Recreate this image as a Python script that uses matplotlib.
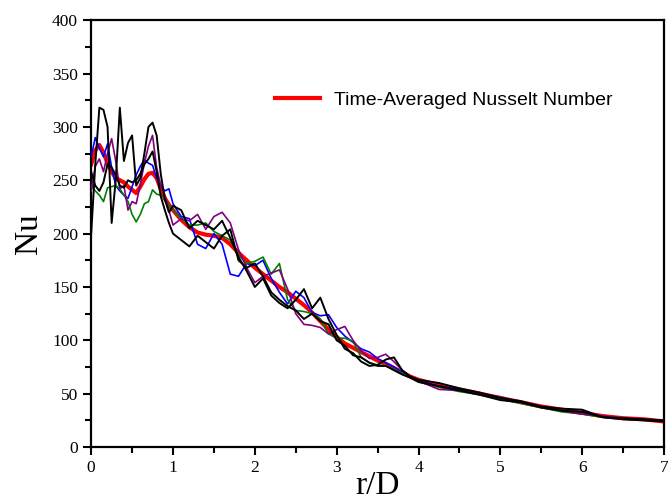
import numpy as np
import matplotlib
matplotlib.use("Agg")
import matplotlib.pyplot as plt
from matplotlib.ticker import MultipleLocator

# radial position r/D (shared grid for all series)
r_fine = [0.0, 0.05, 0.1, 0.15, 0.2, 0.25, 0.3, 0.35, 0.4, 0.45, 0.5,
          0.55, 0.6, 0.65, 0.7, 0.75, 0.8, 0.85, 0.9, 0.95, 1.0]
r_mid = [1.1, 1.2, 1.3, 1.4, 1.5, 1.6, 1.7, 1.8, 1.9, 2.0,
         2.1, 2.2, 2.3, 2.4, 2.5, 2.6, 2.7, 2.8, 2.9, 3.0,
         3.1, 3.2, 3.3, 3.4, 3.5, 3.6, 3.7, 3.8, 3.9, 4.0]
r_far = [4.25, 4.5, 4.75, 5.0, 5.25, 5.5, 5.75, 6.0, 6.25, 6.5, 6.75, 7.0]
r = np.array(r_fine + r_mid + r_far)

nu_avg = [265, 278, 283, 276, 266, 258, 252, 250, 248, 244, 241,
          238, 244, 251, 256, 257, 252, 242, 233, 227, 222,
          213, 206, 201, 199, 198, 196, 190, 182, 175, 168,
          162, 156, 150, 145, 139, 133, 126, 118, 110, 103,
          97, 93, 89, 85, 81, 78, 74, 70, 66, 63,
          58, 54, 50, 46, 42, 38, 35, 32, 29, 27, 26, 24]

nu_blue = [272, 290, 280, 272, 284, 262, 245, 240, 236, 233, 244,
           255, 263, 269, 266, 264, 252, 245, 240, 242, 228,
           216, 214, 190, 186, 200, 190, 162, 160, 172, 170,
           175, 158, 145, 134, 146, 140, 126, 123, 124, 112,
           104, 98, 92, 89, 83, 79, 75, 70, 66, 62,
           57, 54, 50, 46, 42, 38, 34, 31, 29, 27, 26, 25]

nu_green = [245, 240, 236, 230, 243, 244, 245, 242, 236, 230, 218,
            211, 218, 228, 230, 241, 237, 236, 234, 226, 222,
            214, 208, 208, 210, 202, 198, 194, 180, 172, 174,
            178, 162, 172, 138, 128, 127, 125, 120, 106, 102,
            102, 99, 84, 79, 77, 76, 73, 69, 65, 61,
            56, 52, 49, 45, 41, 37, 33, 31, 28, 27, 26, 25]

nu_purple = [240, 263, 270, 258, 275, 289, 268, 242, 245, 222, 230,
             228, 246, 266, 282, 292, 262, 245, 236, 222, 208,
             214, 212, 218, 204, 216, 220, 210, 185, 168, 154,
             160, 163, 166, 148, 125, 115, 114, 112, 106, 110,
             113, 100, 90, 83, 84, 87, 80, 72, 66, 62,
             54, 53, 50, 47, 42, 38, 34, 31, 29, 27, 26, 25]

nu_black1 = [200, 265, 318, 316, 300, 210, 250, 318, 268, 285, 292,
             245, 252, 275, 300, 304, 292, 256, 232, 220, 226,
             222, 205, 212, 208, 204, 212, 196, 178, 165, 150,
             158, 142, 135, 130, 138, 148, 130, 140, 120, 105,
             92, 88, 80, 76, 77, 82, 84, 72, 66, 63,
             60, 55, 51, 46, 43, 38, 36, 35, 28, 27, 26, 25]

nu_black2 = [258, 245, 240, 248, 265, 262, 255, 245, 243, 250, 248,
             250, 256, 265, 270, 277, 258, 235, 222, 210, 200,
             194, 188, 198, 192, 186, 198, 204, 175, 168, 172,
             160, 145, 138, 132, 128, 120, 125, 118, 115, 100,
             95, 86, 84, 79, 76, 76, 72, 68, 65, 61,
             57, 53, 49, 44, 42, 37, 34, 33, 28, 26, 25, 24]

plt.rcParams["font.family"] = ["Liberation Serif", "DejaVu Serif"]

fig = plt.figure(figsize=(6.68, 5.04), dpi=100)
ax = fig.add_axes([0.1365, 0.113, 0.8575, 0.847])

ax.plot(r, nu_avg, color="red", lw=3.0, zorder=2,
        label="Time-Averaged Nusselt Number")
ax.plot(r, nu_blue, color="blue", lw=1.2, zorder=3)
ax.plot(r, nu_green, color="green", lw=1.2, zorder=3)
ax.plot(r, nu_purple, color="purple", lw=1.2, zorder=3)
ax.plot(r, nu_black2, color="black", lw=1.4, zorder=4)
ax.plot(r, nu_black1, color="black", lw=1.4, zorder=4)

ax.set_xlim(0, 7)
ax.set_ylim(0, 400)
ax.xaxis.set_major_locator(MultipleLocator(1))
ax.xaxis.set_minor_locator(MultipleLocator(0.5))
ax.yaxis.set_major_locator(MultipleLocator(50))
ax.yaxis.set_minor_locator(MultipleLocator(25))
ax.tick_params(which="both", direction="out", width=1.5, labelsize=12.5,
               top=False, right=False)
ax.tick_params(which="major", length=6)
ax.tick_params(which="minor", length=4)
for sp in ax.spines.values():
    sp.set_linewidth(1.6)

ax.set_xlabel("r/D", fontsize=24, labelpad=-4)
ax.set_ylabel("Nu", fontsize=24, labelpad=6)

leg = ax.legend(loc="center left", bbox_to_anchor=(0.29, 0.813),
                frameon=False, handlelength=2.3, handletextpad=0.75,
                prop={"family": "Liberation Sans", "size": 14})

fig.savefig("out.png", dpi=100)
